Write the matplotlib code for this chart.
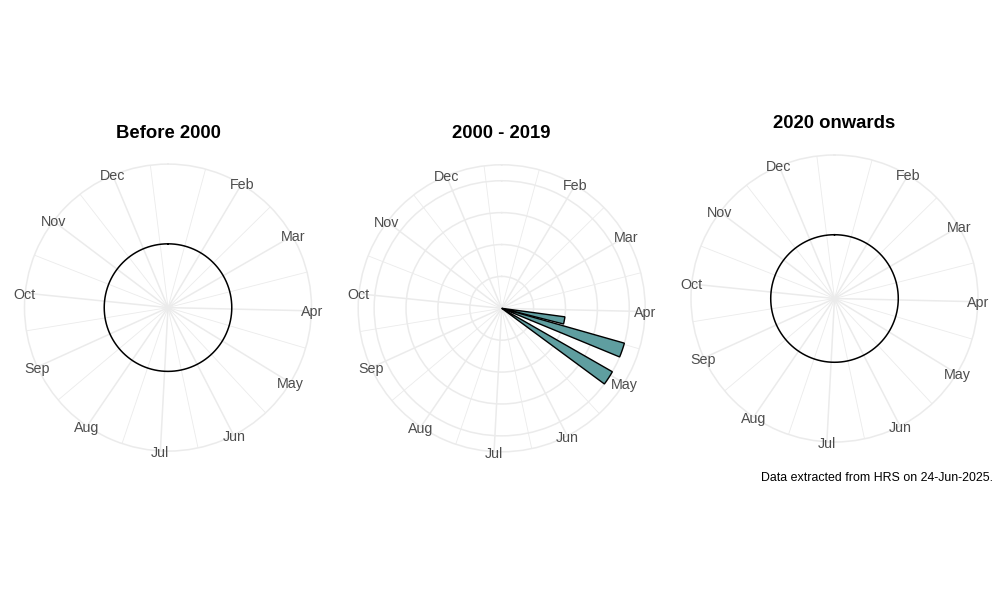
import numpy as np
import matplotlib
matplotlib.use("Agg")
import matplotlib.pyplot as plt

plt.rcParams['font.family'] = ['Liberation Sans', 'DejaVu Sans']

# panels
periods = ["Before 2000", "2000 - 2019", "2020 onwards"]

# bars of the middle panel: day of year (leap-year calendar) and counts
bar_days = {"2000 - 2019": [101.6, 109.7, 123.55]}
bar_counts = {"2000 - 2019": [2, 4, 4]}
bar_width_days = 6.5

# theta scale (date range of the x axis, day of year)
x_min, x_max = 1.45, 358.5
r_max = 4.5
r_breaks = [1, 2, 3, 4]
empty_ring_r = 2.0

month_names = ["Jan", "Feb", "Mar", "Apr", "May", "Jun",
               "Jul", "Aug", "Sep", "Oct", "Nov", "Dec"]
month_starts = [1, 32, 61, 92, 122, 153, 183, 214, 245, 275, 306, 336, 367]

footnote = "Data extracted from HRS on 24-Jun-2025."

GRID = "#EBEBEB"
FILL = "#5F9EA0"


def to_theta(day):
    return 2 * np.pi * (np.asarray(day, dtype=float) - x_min) / (x_max - x_min)


def in_range(d):
    return x_min <= d <= x_max


def draw_panel(ax, period):
    ax.set_theta_zero_location("N")
    ax.set_theta_direction(-1)
    ax.set_ylim(0, r_max)

    major = [d for d in month_starts[:12] if in_range(d)]
    minor = [(a + b) / 2 for a, b in zip(month_starts[:-1], month_starts[1:])]
    minor = [d for d in minor if in_range(d)]

    ax.set_xticks(to_theta(major))
    ax.set_xticks(to_theta(minor), minor=True)
    ax.set_xticklabels([])
    ax.tick_params(axis="x", which="both", length=0, pad=0)

    has_data = period in bar_days
    if has_data:
        ax.set_yticks(r_breaks)
    else:
        ax.set_yticks([])
    ax.set_yticklabels([])
    ax.tick_params(axis="y", length=0)

    ax.grid(which="major", color=GRID, lw=1.1)
    ax.xaxis.grid(which="minor", color=GRID, lw=0.6)
    ax.spines["polar"].set_color(GRID)
    ax.spines["polar"].set_linewidth(1.1)
    ax.set_facecolor("white")

    # month labels centred on the outer ring
    for name, d in zip(month_names, month_starts[:12]):
        if in_range(d):
            ax.text(to_theta(d), r_max * 1.003, name, ha="center",
                    va="center_baseline", fontsize=10.3, color="#4D4D4D",
                    clip_on=False)

    if has_data:
        days = np.array(bar_days[period])
        ax.bar(to_theta(days), bar_counts[period],
               width=2 * np.pi * bar_width_days / (x_max - x_min),
               color=FILL, edgecolor="black", linewidth=1.0, zorder=3)
    else:
        t = np.linspace(0, 2 * np.pi, 361)
        ax.plot(t, np.full_like(t, empty_ring_r), color="black", lw=1.1, zorder=3)

    ax.text(0.5, 1 + 33 / 287, period, transform=ax.transAxes,
            ha="center", va="center_baseline", fontsize=13.3, fontweight="bold")


def main():
    fig = plt.figure(figsize=(10, 6), dpi=100)
    # panel centres in pixels (x, y from top) and ring radius
    centres = [(168.0, 307.6), (501.7, 308.3), (834.5, 298.5)]
    rad = 143.5
    for period, (cx, cy) in zip(periods, centres):
        ax = fig.add_axes([(cx - rad) / 1000, (600 - cy - rad) / 600,
                           2 * rad / 1000, 2 * rad / 600], projection="polar")
        draw_panel(ax, period)

    fig.text(0.993, 1 - 478 / 600, footnote, ha="right", va="center",
             fontsize=8.9, color="black")
    fig.savefig("out.png", dpi=100, facecolor="white")


if __name__ == "__main__":
    main()
